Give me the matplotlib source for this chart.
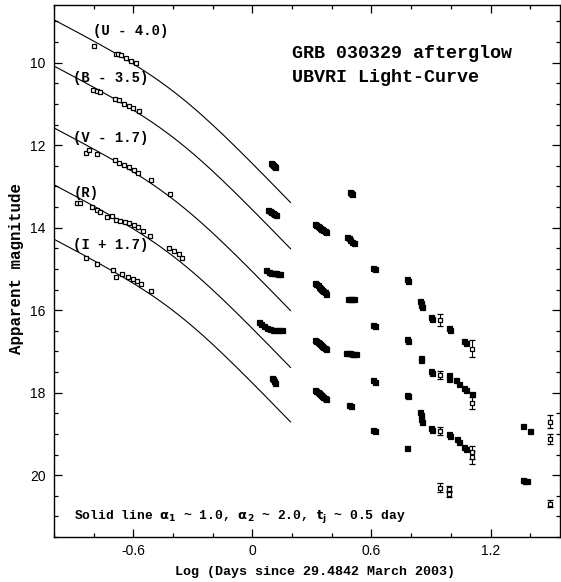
import numpy as np
import matplotlib
matplotlib.use("Agg")
import matplotlib.pyplot as plt
from matplotlib.ticker import MultipleLocator

# ---------------- data (log10 days, apparent magnitude incl. offsets) -------------
U_x = [-0.797, -0.688, -0.675, -0.661, -0.638, -0.611, -0.587,
       0.095, 0.100, 0.104, 0.108, 0.112, 0.490, 0.495, 0.500]
U_m = [9.59, 9.80, 9.80, 9.82, 9.88, 9.96, 10.01,
       12.42, 12.45, 12.48, 12.50, 12.53, 13.13, 13.16, 13.19]

B_x = [-0.801, -0.784, -0.767, -0.695, -0.670, -0.645, -0.624, -0.603, -0.574,
       0.080, 0.088, 0.095, 0.102, 0.110, 0.118,
       0.316, 0.322, 0.328, 0.334, 0.340, 0.346, 0.352, 0.358, 0.364, 0.370,
       0.478, 0.486, 0.494, 0.502, 0.510, 0.610, 0.616, 0.778, 0.782,
       0.843, 0.847, 0.851, 0.855, 0.898, 0.903, 0.990, 0.995, 1.068, 1.074, 1.366]
B_m = [10.65, 10.68, 10.72, 10.87, 10.91, 11.01, 11.05, 11.10, 11.17,
       13.57, 13.59, 13.61, 13.64, 13.67, 13.70,
       13.92, 13.94, 13.96, 13.98, 14.00, 14.02, 14.04, 14.06, 14.08, 14.10,
       14.22, 14.26, 14.30, 14.34, 14.38, 14.97, 15.01, 15.25, 15.29,
       15.78, 15.83, 15.88, 15.93, 16.17, 16.21, 16.43, 16.47, 16.74, 16.80, 18.80]

V_x = [-0.838, -0.823, -0.781, -0.695, -0.670, -0.645, -0.621, -0.598, -0.577, -0.510, -0.414,
       0.066, 0.085, 0.094, 0.103, 0.112, 0.121, 0.130, 0.140,
       0.316, 0.322, 0.328, 0.334, 0.340, 0.346, 0.352, 0.358, 0.364, 0.372,
       0.480, 0.490, 0.500, 0.510, 0.610, 0.616, 0.778, 0.782,
       0.847, 0.851, 0.898, 0.903, 0.992, 0.992, 1.028, 1.040, 1.068, 1.074, 1.106, 1.397]
V_m = [12.19, 12.12, 12.21, 12.37, 12.43, 12.49, 12.54, 12.61, 12.67, 12.84, 13.18,
       15.03, 15.08, 15.09, 15.10, 15.11, 15.11, 15.12, 15.12,
       15.35, 15.37, 15.40, 15.43, 15.46, 15.49, 15.52, 15.54, 15.57, 15.60,
       15.72, 15.73, 15.73, 15.74, 16.35, 16.39, 16.71, 16.75,
       17.17, 17.22, 17.48, 17.52, 17.56, 17.66, 17.70, 17.80, 17.89, 17.94, 18.04, 18.92]

R_x = [-0.885, -0.868, -0.810, -0.785, -0.767, -0.734, -0.709, -0.688, -0.666, -0.644,
       -0.621, -0.599, -0.579, -0.554, -0.515, -0.422, -0.397, -0.372, -0.355,
       0.032, 0.045, 0.060, 0.075, 0.090, 0.105, 0.120, 0.135, 0.150,
       0.316, 0.322, 0.328, 0.334, 0.340, 0.346, 0.352, 0.358, 0.364, 0.372,
       0.472, 0.482, 0.492, 0.502, 0.512, 0.522, 0.610, 0.616, 0.778, 0.782,
       0.843, 0.847, 0.851, 0.855, 0.898, 0.903, 0.990, 0.995, 1.030, 1.040,
       1.068, 1.074, 1.366, 1.376, 1.386]
R_m = [13.40, 13.40, 13.49, 13.57, 13.62, 13.73, 13.71, 13.81, 13.83, 13.85,
       13.89, 13.93, 13.99, 14.08, 14.19, 14.50, 14.56, 14.64, 14.73,
       16.28, 16.33, 16.39, 16.43, 16.46, 16.48, 16.49, 16.49, 16.47,
       16.72, 16.74, 16.77, 16.79, 16.82, 16.84, 16.87, 16.89, 16.91, 16.94,
       17.05, 17.05, 17.05, 17.06, 17.06, 17.07, 17.70, 17.74, 18.05, 18.09,
       18.47, 18.55, 18.63, 18.72, 18.86, 18.90, 19.00, 19.04, 19.12, 19.20,
       19.31, 19.36, 20.12, 20.15, 20.14]

I_x = [-0.838, -0.784, -0.704, -0.686, -0.658, -0.628, -0.603, -0.582, -0.562, -0.512,
       0.098, 0.103, 0.108, 0.113,
       0.316, 0.322, 0.328, 0.334, 0.340, 0.346, 0.352, 0.358, 0.364, 0.372,
       0.485, 0.495, 0.610, 0.616, 0.780]
I_m = [14.73, 14.88, 15.03, 15.19, 15.13, 15.20, 15.25, 15.29, 15.37, 15.54,
       17.65, 17.68, 17.72, 17.76,
       17.94, 17.96, 17.98, 18.01, 18.03, 18.06, 18.08, 18.11, 18.13, 18.16,
       18.30, 18.32, 18.90, 18.94, 19.33]

# points with error bars
E_x = [0.946, 1.105, 0.946, 1.106, 0.946, 1.106, 1.106, 0.946, 0.992, 0.992, 1.502, 1.502, 1.502]
E_m = [16.24, 16.93, 17.58, 18.25, 18.93, 19.45, 19.57, 20.30, 20.34, 20.46, 18.70, 19.12, 20.69]
E_e = [0.14, 0.20, 0.10, 0.15, 0.10, 0.15, 0.15, 0.10, 0.08, 0.08, 0.15, 0.12, 0.08]

# model lines: broken power law (as drawn) and anchor magnitudes at log t = -1
alpha1, alpha2, t_break, sharp = 1.0, 2.0, 0.41, 3.0
line_start = [8.96, 10.08, 11.58, 12.96, 14.28]
line_range = (-1.0, 0.192)

band_labels = ["(U - 4.0)", "(B - 3.5)", "(V - 1.7)", "(R)", "(I + 1.7)"]
label_pos = [(-0.801, 9.24), (-0.902, 10.36), (-0.902, 11.82), (-0.902, 13.15), (-0.902, 14.42)]

# ---------------- figure ----------------
fig = plt.figure(figsize=(5.61, 5.82), dpi=100)
ax = fig.add_axes([54/561, 1-537/582, (560-54)/561, (537-5)/582])

def model(logt):
    t = 10**np.asarray(logt)
    x = t / t_break
    return 2.5*alpha1*np.log10(t) + 2.5*(alpha2-alpha1)/sharp*np.log10(1 + x**sharp)

lx = np.linspace(line_range[0], line_range[1], 200)
for m0 in line_start:
    ax.plot(lx, m0 + model(lx) - model(line_range[0]), color='black', lw=0.8)

for xs, ms in [(U_x, U_m), (B_x, B_m), (V_x, V_m), (R_x, R_m), (I_x, I_m)]:
    xs = np.asarray(xs); ms = np.asarray(ms)
    early = xs < 0
    ax.plot(xs[early], ms[early], ls='none', marker='s', ms=3.3, mfc='white', mec='black', mew=0.9)
    ax.plot(xs[~early], ms[~early], ls='none', marker='s', ms=3.6, mfc='black', mec='black', mew=0.9)
ax.errorbar(E_x, E_m, yerr=E_e, fmt='s', ms=3.3, mfc='white', mec='black', mew=0.9,
            ecolor='black', elinewidth=0.8, capsize=2.0, capthick=0.8)

txtfont = dict(family='Liberation Mono', weight='bold')
for lab, (lxp, lyp) in zip(band_labels, label_pos):
    ax.text(lxp, lyp, lab, fontsize=10, ha='left', va='center', **txtfont)

ax.text(0.199, 9.77, "GRB 030329 afterglow", fontsize=13.2, ha='left', va='center', **txtfont)
ax.text(0.199, 10.35, "UBVRI Light-Curve", fontsize=13.2, ha='left', va='center', **txtfont)
ax.text(-0.899, 21.01, r"Solid line $\mathbf{\alpha_1}$ ~ 1.0, $\mathbf{\alpha_2}$ ~ 2.0, $\mathbf{t_j}$ ~ 0.5 day",
        fontsize=9.4, ha='left', va='center', **txtfont)

ax.set_xlim(-1.0, 1.55)
ax.set_ylim(21.5, 8.6)
ax.xaxis.set_minor_locator(MultipleLocator(0.2))
ax.yaxis.set_major_locator(MultipleLocator(2))
ax.yaxis.set_minor_locator(MultipleLocator(0.5))
ax.set_xticks([-0.6, 0, 0.6, 1.2])
ax.set_xticklabels(["-0.6", "0", "0.6", "1.2"])
ax.tick_params(which='both', direction='in', top=True, right=True, width=0.9)
ax.tick_params(which='major', length=6, labelsize=10)
ax.tick_params(axis='x', which='major', pad=5)
ax.tick_params(axis='y', which='major', pad=6)
ax.tick_params(which='minor', length=3)
for lab in ax.get_xticklabels() + ax.get_yticklabels():
    lab.set_family('Liberation Sans')
for s in ax.spines.values():
    s.set_linewidth(1.0)

ax.set_xlabel("Log (Days since 29.4842 March 2003)", fontsize=9.6, **txtfont)
ax.xaxis.set_label_coords(0.515, -0.055)
ax.set_ylabel("Apparent magnitude", fontsize=11.3, **txtfont)
ax.yaxis.set_label_coords(-0.06, 0.505)

fig.savefig("out.png", dpi=100)
